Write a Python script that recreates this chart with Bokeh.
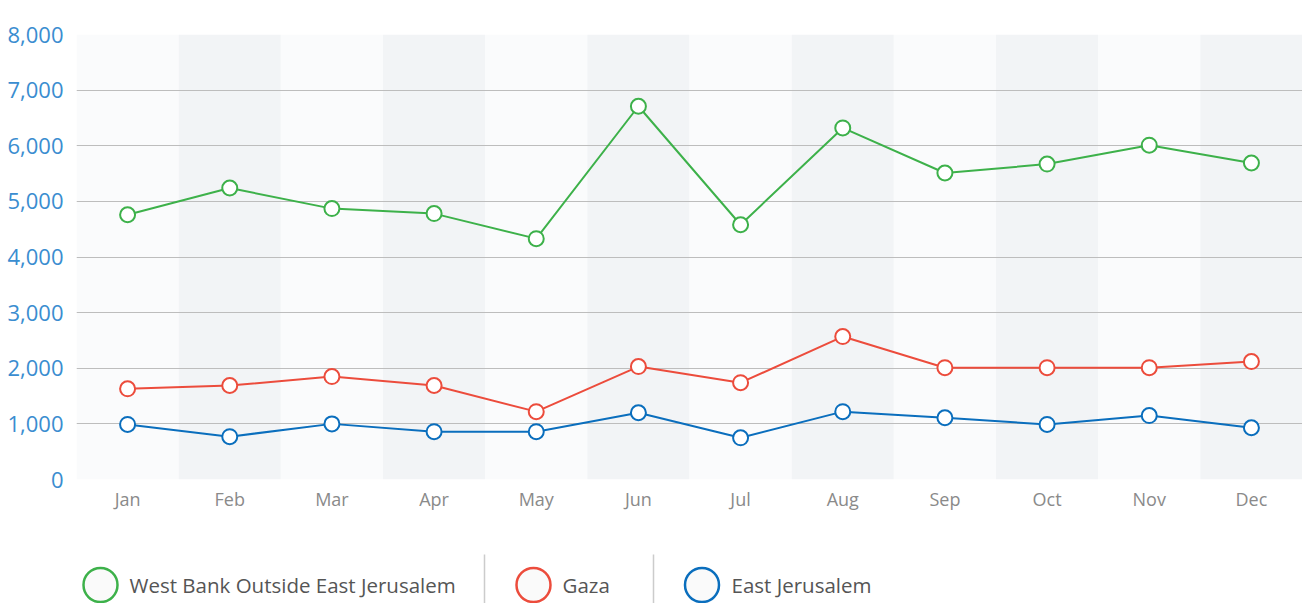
from bokeh.plotting import figure
from bokeh.models import FixedTicker, Range1d
from bokeh.layouts import column
from bokeh.embed import file_html
from bokeh.resources import INLINE
from bokeh.core.properties import value

months = ["Jan", "Feb", "Mar", "Apr", "May", "Jun", "Jul", "Aug", "Sep", "Oct", "Nov", "Dec"]
west_bank = [4760, 5240, 4870, 4780, 4330, 6710, 4580, 6320, 5510, 5670, 6010, 5690]
gaza = [1630, 1690, 1850, 1690, 1220, 2030, 1740, 2570, 2010, 2010, 2010, 2120]
east_jerusalem = [990, 770, 1000, 860, 860, 1200, 750, 1220, 1110, 990, 1150, 930]
series_names = ["West Bank Outside East Jerusalem", "Gaza", "East Jerusalem"]
y_ticks = [0, 1000, 2000, 3000, 4000, 5000, 6000, 7000, 8000]
y_tick_labels = ["0", "1,000", "2,000", "3,000", "4,000", "5,000", "6,000", "7,000", "8,000"]

colors = ["#3db14a", "#ec4c3c", "#0a6ebd"]
FONT = "Open Sans"
W = 1302
LEFT = 76

p = figure(width=W, height=540, x_range=months, y_range=(0, 8000),
           toolbar_location=None, output_backend="svg",
           min_border_left=LEFT, min_border_right=0, min_border_top=34, min_border_bottom=61)
p.outline_line_color = None
p.background_fill_color = "white"
p.border_fill_color = "white"

# alternating column bands
band_colors = ["#fafbfc" if i % 2 == 0 else "#f2f4f6" for i in range(len(months))]
p.vbar(x=months, bottom=0, top=max(y_ticks), width=1.0, fill_color=band_colors,
       line_color=None, level="image")

# grid
p.xgrid.visible = False
p.ygrid.ticker = FixedTicker(ticks=y_ticks[:-1])
p.ygrid.grid_line_color = "#bdbdbd"
p.ygrid.grid_line_width = 1

p.yaxis.ticker = FixedTicker(ticks=y_ticks)
p.yaxis.major_label_overrides = {t: s for t, s in zip(y_ticks, y_tick_labels)}
p.yaxis.axis_line_color = None
p.yaxis.major_tick_line_color = None
p.yaxis.minor_tick_line_color = None
p.yaxis.major_tick_out = 0
p.yaxis.minor_tick_out = 0
p.yaxis.major_label_text_font = FONT
p.yaxis.major_label_text_font_size = "22px"
p.yaxis.major_label_text_color = "#3a8dd0"
p.yaxis.major_label_standoff = 13

p.xaxis.axis_line_color = None
p.xaxis.major_tick_line_color = None
p.xaxis.minor_tick_line_color = None
p.xaxis.major_tick_out = 0
p.xaxis.minor_tick_out = 0
p.xaxis.major_label_text_font = FONT
p.xaxis.major_label_text_font_size = "18px"
p.xaxis.major_label_text_color = "#8a8a8a"
p.xaxis.major_label_standoff = 7

for vals, c in zip([west_bank, gaza, east_jerusalem], colors):
    p.line(months, vals, line_color=c, line_width=2)
    p.scatter(months, vals, size=15, marker="circle", fill_color="white", line_color=c, line_width=2)

# legend figure (x in page pixels)
LH = 63
lg = figure(width=W, height=LH, x_range=Range1d(LEFT, W), y_range=Range1d(LH, 0),
            toolbar_location=None, output_backend="svg",
            min_border_left=LEFT, min_border_right=0, min_border_top=0, min_border_bottom=0,
            x_axis_location=None, y_axis_location=None)
lg.outline_line_color = None
lg.grid.visible = False
lg.background_fill_color = "white"
lg.border_fill_color = "white"

marker_x = [100, 533, 701.5]
text_x = [129, 562, 731]
sep_x = [484, 653]
cy = 44.5
lg.scatter(marker_x, [cy] * 3, size=34, marker="circle", fill_color="#fafafa",
           line_color=colors, line_width=2.5)
lg.text(text_x, [cy] * 3, text=series_names, text_baseline="middle", text_align="left",
        text_font=value(FONT), text_font_size="20.5px", text_color="#555555")
lg.segment(x0=sep_x, x1=sep_x, y0=[14, 14], y1=[LH, LH], line_color="#cccccc", line_width=1.5)

layout = column(p, lg, spacing=0)
open("out.html", "w").write(file_html(layout, INLINE))
